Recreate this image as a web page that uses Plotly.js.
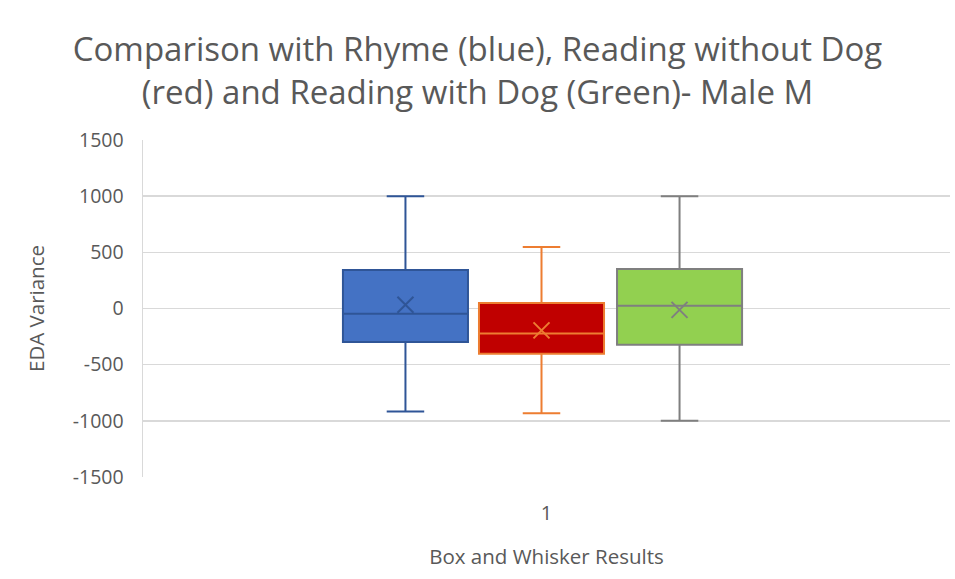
<!DOCTYPE html>
<html>
<head>
<meta charset="utf-8">
<script src="https://cdn.plot.ly/plotly-3.0.1.min.js"></script>
<style>
  html, body { margin: 0; padding: 0; background: #fff; }
  #chart { width: 955px; height: 579px; }
</style>
</head>
<body>
<div id="chart"></div>
<script>
// Series names
const seriesNames = ["Rhyme", "Reading without Dog", "Reading with Dog"];
// Box statistics
const lowerWhisker = [-917, -932, -1000];
const q1Values     = [-298, -402, -322];
const medianValues = [-47, -222, 24];
const q3Values     = [343, 48, 352];
const upperWhisker = [1000, 547, 1000];
const meanValues   = [33, -195, -12];
// Tick labels
const categoryLabels = ["1"];
const yTickValues = [-1500, -1000, -500, 0, 500, 1000, 1500];
const yTickLabels = ["-1500", "-1000", "-500", "0", "500", "1000", "1500"];

const fillColors = ["#4472C4", "#C00000", "#92D050"];
const lineColors = ["#2F5597", "#ED7D31", "#7F7F7F"];
const positions = [-1.128, -0.04, 1.064];

const traces = [];
for (let i = 0; i < seriesNames.length; i++) {
  traces.push({
    type: "box",
    name: seriesNames[i],
    x: [positions[i]],
    q1: [q1Values[i]],
    median: [medianValues[i]],
    q3: [q3Values[i]],
    lowerfence: [lowerWhisker[i]],
    upperfence: [upperWhisker[i]],
    width: 1,
    whiskerwidth: 0.3,
    fillcolor: fillColors[i],
    line: { color: lineColors[i], width: 2 },
    boxpoints: false,
    hoverinfo: "y",
    showlegend: false
  });
  traces.push({
    type: "scatter",
    mode: "markers",
    x: [positions[i]],
    y: [meanValues[i]],
    marker: { symbol: "x-thin", size: 16, line: { color: lineColors[i], width: 2 } },
    hoverinfo: "y",
    showlegend: false
  });
}

const textColor = "#595959";
const layout = {
  width: 955,
  height: 579,
  margin: { l: 143, r: 5, t: 140, b: 102 },
  paper_bgcolor: "#ffffff",
  plot_bgcolor: "#ffffff",
  font: { family: "Open Sans, sans-serif", color: textColor },
  title: {
    text: "Comparison with Rhyme (blue), Reading without Dog<br>(red) and Reading with Dog (Green)- Male M",
    font: { size: 33, color: textColor, family: "Open Sans, sans-serif" },
    x: 0.5,
    xanchor: "center",
    xref: "container",
    yref: "container",
    y: 1 - 61 / 579,
    yanchor: "middle"
  },
  xaxis: {
    range: [-3.227, 3.227],
    tickvals: [0],
    ticktext: categoryLabels,
    showgrid: false,
    zeroline: false,
    showline: false,
    ticks: "",
    ticklabelstandoff: 22,
    tickfont: { size: 20, color: textColor },
    title: { text: "Box and Whisker Results", font: { size: 20.5, color: textColor }, standoff: 24 },
    fixedrange: true
  },
  yaxis: {
    range: [-1500, 1500],
    tickvals: yTickValues,
    ticktext: yTickLabels,
    showgrid: true,
    gridcolor: "#D9D9D9",
    gridwidth: 1.5,
    zeroline: false,
    showline: true,
    linecolor: "#D9D9D9",
    linewidth: 1.5,
    ticks: "",
    ticklabelstandoff: 14,
    tickfont: { size: 19.5, color: textColor },
    title: { text: "EDA Variance", font: { size: 20.5, color: textColor }, standoff: 22 },
    fixedrange: true
  },
  showlegend: false
};

Plotly.newPlot("chart", traces, layout, { displayModeBar: false, staticPlot: true });
</script>
</body>
</html>
